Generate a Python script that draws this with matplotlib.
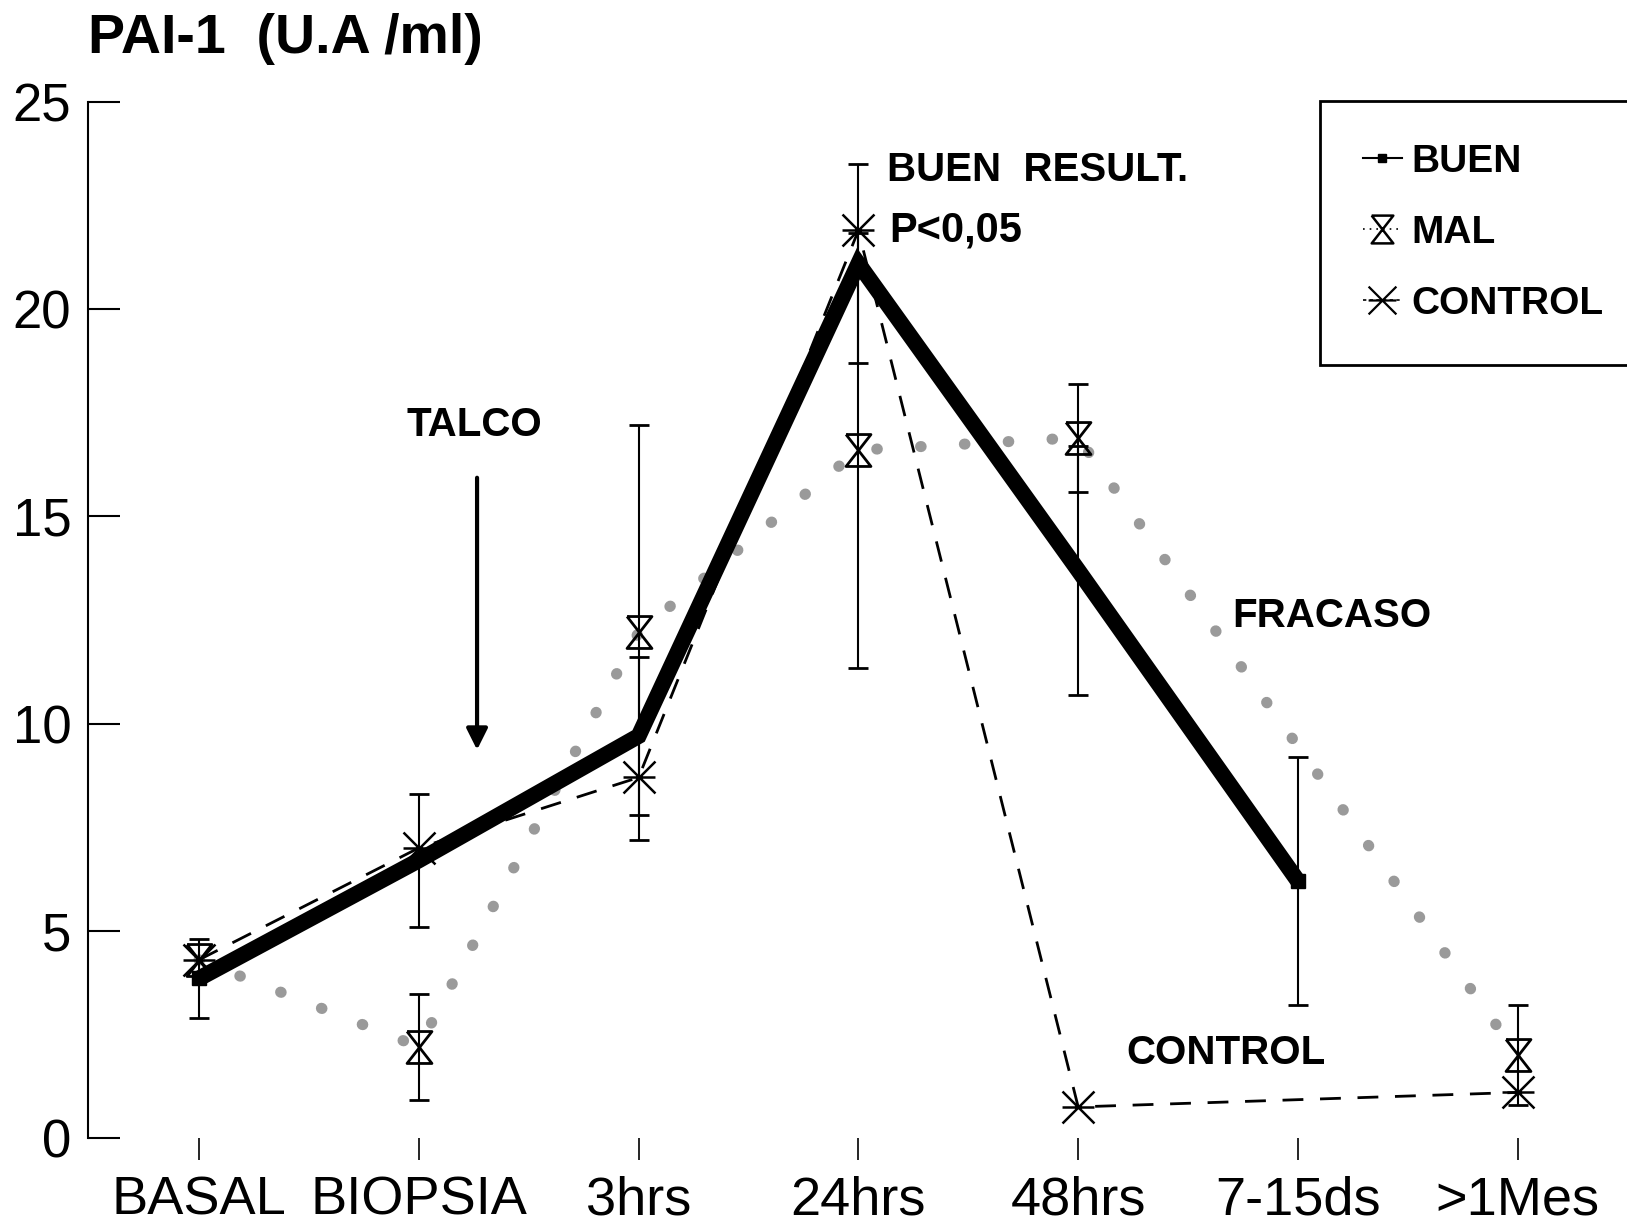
import numpy as np
import matplotlib
matplotlib.use("Agg")
import matplotlib.pyplot as plt
from matplotlib.path import Path
from matplotlib.lines import Line2D

plt.rcParams["font.family"] = ["Liberation Sans", "DejaVu Sans"]

categories = ["BASAL", "BIOPSIA", "3hrs", "24hrs", "48hrs", "7-15ds", ">1Mes"]
buen = [3.85, 6.7, 9.7, 21.1, 13.7, 6.2, np.nan]
buen_err = [0.95, 1.6, 1.9, 2.4, 3.0, 3.0, np.nan]
mal = [4.3, 2.2, 12.2, 16.6, 16.9, np.nan, 2.0]
mal_err = [np.nan, 1.28, 5.0, 5.25, 1.3, np.nan, 1.2]
control = [4.3, 7.0, 8.7, 21.9, 0.75, np.nan, 1.1]
y_ticks = [0, 5, 10, 15, 20, 25]

hourglass = Path(
    [(-0.78, 1), (0.78, 1), (-0.78, -1), (0.78, -1), (-0.78, 1)],
    [Path.MOVETO, Path.LINETO, Path.LINETO, Path.LINETO, Path.LINETO],
)
asterisk = Path(
    [(-1, 0), (1, 0), (-1, -1), (1, 1), (-1, 1), (1, -1)],
    [Path.MOVETO, Path.LINETO, Path.MOVETO, Path.LINETO, Path.MOVETO, Path.LINETO],
)


def valid(values):
    x = np.arange(len(values))
    v = np.asarray(values, dtype=float)
    keep = ~np.isnan(v)
    return x[keep], v[keep]


fig = plt.figure(figsize=(16.27, 12.32), dpi=100)
ax = fig.add_axes([0.0541, 0.0763, 0.9459, 0.8409])

gray = "#9a9a9a"

# MAL: grey dotted line, black hourglass markers
mx, my = valid(mal)
ax.plot(mx, my, color=gray, lw=8, linestyle=(0, (0.05, 3.9)),
        dash_capstyle="round", zorder=1)

# CONTROL: dashed black line
cx, cy = valid(control)
ax.plot(cx, cy, color="black", lw=2, linestyle=(0, (7.5, 6)), zorder=2)

# BUEN: thick solid line
bx, by = valid(buen)
ax.plot(bx, by, color="black", lw=11.5, solid_capstyle="butt",
        solid_joinstyle="miter", zorder=3)
ax.plot(bx[[0, -1]], by[[0, -1]], "s", color="black", ms=10, zorder=3)

# error bars
ex, ev = valid(buen)
_, ee = valid(buen_err)
ax.errorbar(ex, ev, yerr=ee, fmt="none", ecolor="black", elinewidth=1.5,
             capsize=7, capthick=2, zorder=4)
mal_arr = np.asarray(mal, dtype=float)
mal_err_arr = np.asarray(mal_err, dtype=float)
keep = ~np.isnan(mal_err_arr)
ax.errorbar(np.arange(len(mal))[keep], mal_arr[keep], yerr=mal_err_arr[keep],
             fmt="none", ecolor="black", elinewidth=1.5, capsize=7, capthick=2, zorder=4)

ax.plot(mx, my, linestyle="none", marker=hourglass, ms=23, mfc="none",
        mec="black", mew=2, zorder=5)
ax.plot(cx, cy, linestyle="none", marker=asterisk, ms=23, mfc="none",
        mec="black", mew=1.8, zorder=5)

ax.set_xlim(-0.505, 6.497)
ax.set_ylim(0, 25)
ax.set_xticks(range(len(categories)))
ax.set_xticklabels(categories, fontsize=39)
ax.set_yticks(y_ticks)
ax.set_yticklabels([str(t) for t in y_ticks], fontsize=38)
ax.tick_params(axis="x", direction="out", length=16, width=1.2, pad=11)
ax.tick_params(axis="y", direction="in", length=23, width=1.5, pad=12)
for side in ("top", "right", "bottom"):
    ax.spines[side].set_visible(False)
ax.spines["left"].set_linewidth(1.5)

# annotations
ax.text(1.255, 17.2, "TALCO", fontsize=29, fontweight="bold", ha="center", va="center")
ax.annotate("", xy=(1.265, 9.3), xytext=(1.265, 16.0),
            arrowprops=dict(arrowstyle="-|>", lw=3, color="black", mutation_scale=32))
ax.text(3.13, 23.35, "BUEN  RESULT.", fontsize=29, fontweight="bold", ha="left", va="center")
ax.text(3.14, 21.9, "P<0,05", fontsize=30, fontweight="bold", ha="left", va="center")
ax.text(4.70, 12.6, "FRACASO", fontsize=29, fontweight="bold", ha="left", va="center")
ax.text(4.22, 2.05, "CONTROL", fontsize=29, fontweight="bold", ha="left", va="center")

fig.text(0.054, 0.968, "PAI-1  (U.A /ml)", fontsize=40, fontweight="bold",
         ha="left", va="center")

handles = [
    Line2D([], [], color="black", lw=1.5, marker="s", ms=6),
    Line2D([], [], color="black", lw=1.2, linestyle=(0, (1, 3)), marker=hourglass,
           ms=20, mfc="none", mew=1.8),
    Line2D([], [], color="black", lw=1.2, linestyle=(0, (2, 2)), marker=asterisk,
           ms=20, mfc="none", mew=1.6),
]
leg = ax.legend(handles, ["BUEN", "MAL", "CONTROL"], loc="upper left",
                bbox_to_anchor=(1320 / 1627, 1 - 101 / 1232),
                bbox_transform=fig.transFigure, borderaxespad=0,
                prop=dict(size=28, weight="bold"), frameon=True, fancybox=False,
                edgecolor="black", framealpha=1, handlelength=1.0,
                handletextpad=0.25, borderpad=1.1, labelspacing=0.9)
leg.get_frame().set_linewidth(2)

fig.savefig("out.png", dpi=100)
